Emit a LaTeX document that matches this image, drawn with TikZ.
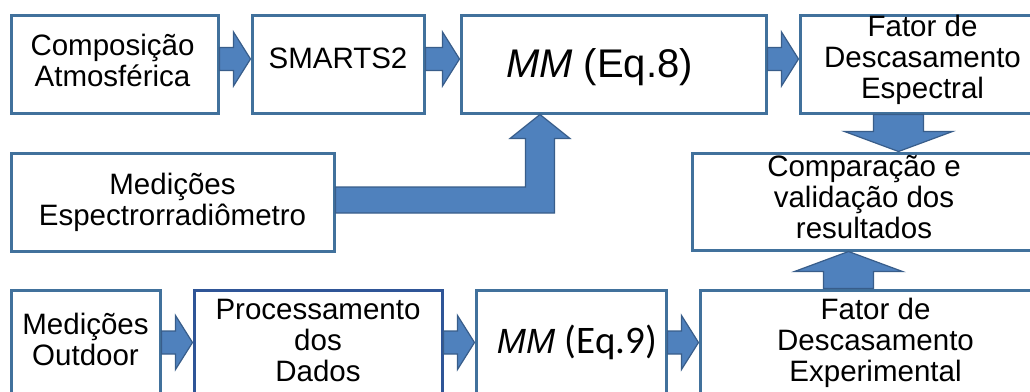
\documentclass[tikz,border=0pt]{standalone}
\usepackage{fontspec}
\setmainfont{Liberation Sans}
\newfontfamily\calib{Carlito}
\usetikzlibrary{calc}
\definecolor{boxline}{HTML}{41719C}
\definecolor{boxdark}{HTML}{2F5597}
\definecolor{arrfill}{HTML}{4F81BD}
\definecolor{arrline}{HTML}{385D8A}
\tikzset{
  box/.style={draw=boxline, line width=3pt, fill=white, inner sep=0pt, outer sep=1.5pt, rectangle},
  txt/.style={align=center, inner sep=0pt, font=\fontsize{29.5}{31}\selectfont},
  blockarrow/.style={fill=arrfill, draw=arrline, line width=1.2pt, line join=miter}
}
\newcommand{\boxat}[6][]{% name, x1, y1, x2, y2
  \node[box,#1, minimum width={(#5-#3)*1pt}, minimum height={(#6-#4)*1pt}] (#2) at ({(#3+#5)/2},{(#4+#6)/2}) {};}
\newcommand{\rblock}[3]{% from #1 to #2, vertical offset #3
  \draw[blockarrow] let \p1=($(#1.east)+(0,#3)$), \p2=($(#2.west)+(0,#3)$) in
    (\x1,\y1+11.5pt) -- (\x2-17pt,\y1+11.5pt) -- (\x2-17pt,\y1+27pt) -- (\x2,\y1)
    -- (\x2-17pt,\y1-27pt) -- (\x2-17pt,\y1-11.5pt) -- (\x1,\y1-11.5pt) -- cycle;}
\begin{document}
\begin{tikzpicture}[x=1pt,y=-1pt]
\useasboundingbox (0,0) rectangle (1030,391);
\clip (0,0) rectangle (1030,391);
% boxes
\boxat{comp}{11}{15}{218}{113}
\boxat{smarts}{252}{15}{424}{113}
\boxat{mmA}{461}{15}{766}{113}
\boxat{fatE}{800}{15}{1045}{113}
\boxat{espec}{11}{153}{334}{251}
\boxat{comparacao}{692}{153}{1036}{250}
\boxat{outdoor}{11}{290}{160}{397}
\boxat[draw=boxdark]{proc}{194}{290}{442}{397}
\boxat{mmB}{476}{290}{666}{397}
\boxat{fatX}{700}{290}{1051}{397}
% texts
\node[txt] (compT) at ($(comp.center)+(-2,-4)$) {Composição\\Atmosférica};
\node[txt, anchor=base] (smartsT) at ($(smarts.center)+(0,4)$) {SMARTS2};
\node[txt, anchor=base, font=\fontsize{40}{42}\selectfont] (mmAT) at ($(mmA.center)+(-14,13)$) {\textit{MM} (Eq.8)};
\node[txt] (fatET) at ($(fatE.center)+(0,-4)$) {Fator de\\Descasamento\\Espectral};
\node[txt] (especT) at ($(espec.center)+(0,0)$) {Medições\\Espectrorradiômetro};
\node[txt] (comparacaoT) at ($(comparacao.center)+(0,-4)$) {Comparação e\\validação dos\\resultados};
\node[txt] (outdoorT) at ($(outdoor.center)+(0,-4)$) {Medições\\Outdoor};
\node[txt] (procT) at ($(proc.center)+(0,-3)$) {Processamento\\dos\\Dados};
\node[txt, anchor=base] (mmBT) at ($(mmB.center)+(6,10)$) {\fontsize{35}{36}\selectfont\textit{MM} {\calib\fontsize{39}{40}\selectfont(Eq.9)}};
\node[txt] (fatXT) at ($(fatX.center)+(0,-1)$) {Fator de\\Descasamento\\Experimental};
% horizontal block arrows
\rblock{comp}{smarts}{-5}
\rblock{smarts}{mmA}{-5}
\rblock{mmA}{fatE}{-5}
\rblock{outdoor}{proc}{-1}
\rblock{proc}{mmB}{-1}
\rblock{mmB}{fatX}{-1}
% L-shaped arrow
\draw[blockarrow] let \p1=($(espec.east)+(0,-2)$), \p2=($(mmA.south)+(-73.5,0)$) in
  (\x1,\y1+13pt) -- (\x2-14.5pt,\y1+13pt) -- (\x2-14.5pt,\y2-24pt) -- (\x2-30pt,\y2-24pt)
  -- (\x2,\y2) -- (\x2+30pt,\y2-24pt) -- (\x2+14.5pt,\y2-24pt) -- (\x2+14.5pt,\y1-13pt)
  -- (\x1,\y1-13pt) -- cycle;
% down arrow
\draw[blockarrow] let \p1=($(fatE.south)+(-24,0)$), \p2=(comparacao.north) in
  (\x1-25pt,\y1) -- (\x1-25pt,\y2+20pt) -- (\x1-54pt,\y2+20pt) -- (\x1,\y2)
  -- (\x1+54pt,\y2+20pt) -- (\x1+25pt,\y2+20pt) -- (\x1+25pt,\y1) -- cycle;
% up arrow
\draw[blockarrow] let \p1=($(fatX.north)+(-27,0)$), \p2=(comparacao.south) in
  (\x1-25pt,\y1) -- (\x1-25pt,\y2-20pt) -- (\x1-54pt,\y2-20pt) -- (\x1,\y2)
  -- (\x1+54pt,\y2-20pt) -- (\x1+25pt,\y2-20pt) -- (\x1+25pt,\y1) -- cycle;
\end{tikzpicture}
\end{document}
